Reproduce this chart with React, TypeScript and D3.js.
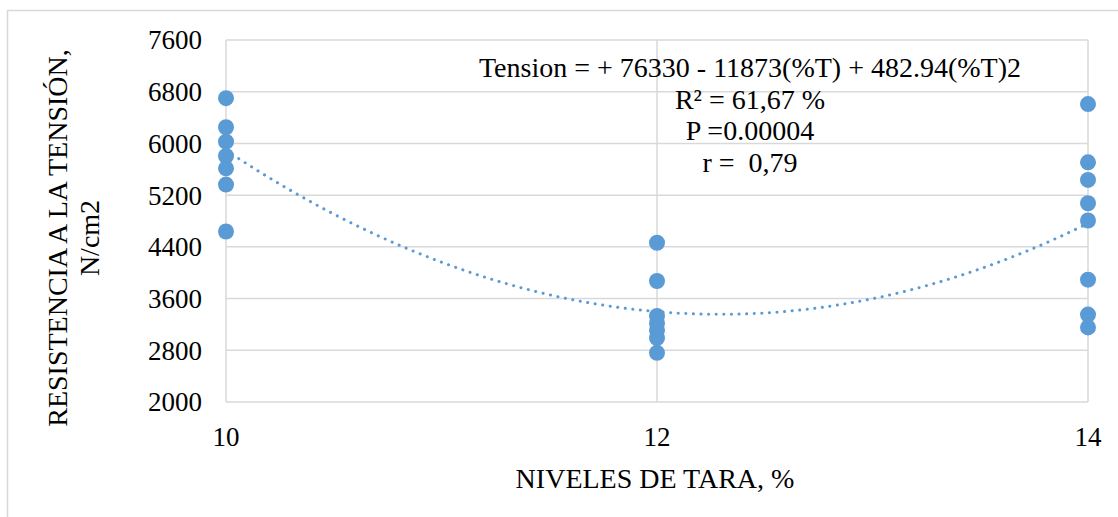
import React from "react";
import * as d3 from "d3";

// Tensile strength by tara level
const levels = [10, 12, 14];
const tension10 = [6700, 6250, 6027, 5806, 5615, 5363, 4638];
const tension12 = [4464, 3872, 3330, 3220, 3110, 2990, 2761];
const tension14 = [6609, 5708, 5436, 5075, 4808, 3893, 3353, 3153];
const yTicks = [2000, 2800, 3600, 4400, 5200, 6000, 6800, 7600];
const xTicks = [10, 12, 14];
// Quadratic fit coefficients: a + b*x + c*x^2
const fit = [76330, -11873, 482.94];
const statsLines = [
  "Tension = + 76330 - 11873(%T) + 482.94(%T)2",
  "R² = 61,67 %",
  "P =0.00004",
  "r =  0,79",
];

const W = 1118;
const H = 517;
const plot = { left: 226, right: 1088, top: 40, bottom: 402 };
const blue = "#5b9bd5";
const grid = "#d9d9d9";
const font = "Liberation Serif, Times New Roman, serif";

export default function App() {
  const x = d3.scaleLinear().domain([10, 14]).range([plot.left, plot.right]);
  const y = d3.scaleLinear().domain([2000, 7600]).range([plot.bottom, plot.top]);

  const series = [tension10, tension12, tension14];
  const points = series.flatMap((vals, i) => vals.map((v) => ({ x: levels[i], y: v })));

  const xs = d3.range(10, 14.0001, 0.02);
  const trend = d3
    .line<number>()
    .x((d) => x(d))
    .y((d) => y(fit[0] + fit[1] * d + fit[2] * d * d))(xs);

  return (
    <svg
      width={W}
      height={H}
      style={{ position: "absolute", left: 0, top: 0, display: "block", background: "#fff" }}
    >
      <rect x={7.5} y={10.5} width={1200} height={600} fill="#fff" stroke={grid} strokeWidth={1.5} />

      {yTicks.map((t) => (
        <line key={"gy" + t} x1={plot.left} x2={plot.right} y1={y(t)} y2={y(t)} stroke={grid} strokeWidth={1.5} />
      ))}
      {xTicks.map((t) => (
        <line key={"gx" + t} x1={x(t)} x2={x(t)} y1={plot.top} y2={plot.bottom} stroke={grid} strokeWidth={1.5} />
      ))}

      {yTicks.map((t) => (
        <text key={"ty" + t} x={202} y={y(t)} dy="0.35em" textAnchor="end" fontFamily={font} fontSize={27} fill="#000">
          {t}
        </text>
      ))}
      {xTicks.map((t) => (
        <text key={"tx" + t} x={x(t)} y={446} textAnchor="middle" fontFamily={font} fontSize={27} fill="#000">
          {t}
        </text>
      ))}

      <text x={655} y={488} textAnchor="middle" fontFamily={font} fontSize={28} fill="#000">
        NIVELES DE TARA, %
      </text>
      <text transform="translate(67,238) rotate(-90)" textAnchor="middle" fontFamily={font} fontSize={28} fill="#000">
        RESISTENCIA A LA TENSIÓN,
      </text>
      <text transform="translate(99,238) rotate(-90)" textAnchor="middle" fontFamily={font} fontSize={28} fill="#000">
        N/cm2
      </text>

      <path
        d={trend ?? ""}
        fill="none"
        stroke={blue}
        strokeWidth={3}
        strokeDasharray="0.1 7.5"
        strokeLinecap="round"
      />

      {points.map((p, i) => (
        <circle key={i} cx={x(p.x)} cy={y(p.y)} r={8} fill={blue} />
      ))}

      {statsLines.map((s, i) => (
        <text
          key={s}
          x={750}
          y={77 + i * 31.5}
          textAnchor="middle"
          fontFamily={font}
          fontSize={28}
          fill="#000"
          style={{ whiteSpace: "pre" }}
        >
          {s}
        </text>
      ))}
    </svg>
  );
}
